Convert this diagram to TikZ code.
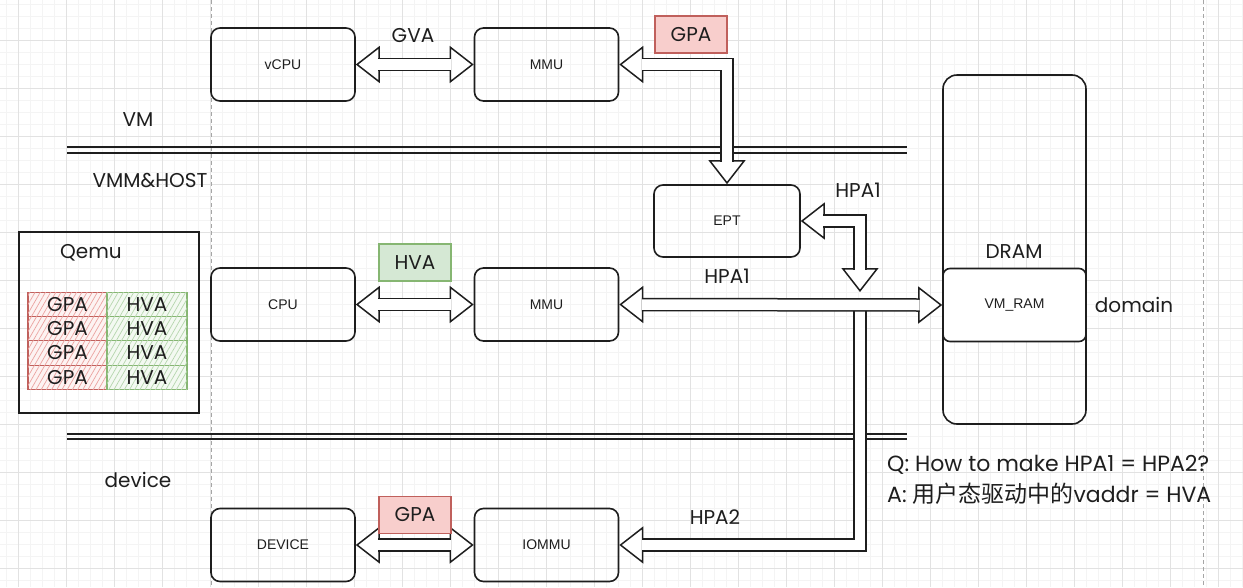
\documentclass[tikz,border=0pt]{standalone}
\usepackage{fontspec}
\setmainfont{Poppins}
\newfontfamily\boxfont{Liberation Sans}
\newfontfamily\cjk{Noto Sans CJK SC}
\usepackage{tikz}
\usetikzlibrary{arrows.meta}
\usetikzlibrary{calc}
\usetikzlibrary{positioning}
\usetikzlibrary{patterns.meta}
\definecolor{inkc}{HTML}{1E1E1E}
\definecolor{gridmajor}{HTML}{E2E2E2}
\definecolor{gridminor}{HTML}{F4F4F4}
\definecolor{redfill}{HTML}{F8CECC}
\definecolor{reddraw}{HTML}{C0605C}
\definecolor{redlight}{HTML}{FDF3F2}
\definecolor{redhatch}{HTML}{EBA3A0}
\definecolor{greenfill}{HTML}{D5E8D4}
\definecolor{greendraw}{HTML}{86B672}
\definecolor{greenlight}{HTML}{F3F9F1}
\definecolor{greenhatch}{HTML}{B5D6AD}
\tikzset{
  box/.style={draw=inkc,line width=1.6pt,rounded corners=9pt,minimum width=144pt,minimum height=73pt,font=\boxfont\fontsize{14}{16}\selectfont,text=inkc},
  hand/.style={font=\fontsize{20}{24}\selectfont,text=inkc,inner sep=0pt},
  tagred/.style={hand,draw=reddraw,fill=redfill,line width=1.3pt,minimum width=72pt,minimum height=37pt},
  taggreen/.style={hand,draw=greendraw,fill=greenfill,line width=1.3pt,minimum width=72pt,minimum height=37pt},
  cellred/.style={hand,draw=reddraw,fill=redlight,line width=1.2pt,minimum width=79pt,minimum height=24.25pt,
    postaction={pattern={Lines[angle=60,distance=4.5pt,line width=0.7pt]},pattern color=redhatch}},
  cellgreen/.style={hand,draw=greendraw,fill=greenlight,line width=1.2pt,minimum width=80pt,minimum height=24.25pt,
    postaction={pattern={Lines[angle=60,distance=4.5pt,line width=0.7pt]},pattern color=greenhatch}},
  shaft/.style={draw=inkc,line width=1.5pt,double=white,double distance=10.5pt},
  head/.style={draw=inkc,line width=1.5pt,-{Triangle[length=24pt,width=37pt,fill=white]}},
  sep/.style={draw=inkc,line width=1.6pt},
  note/.style={hand,anchor=west,font=\fontsize{22}{26}\selectfont},
}
\begin{document}
\begin{tikzpicture}[x=1pt,y=-1pt,node distance=263.5pt]
  \fill[white] (0,0) rectangle (1243,587);
  \useasboundingbox (0,0) rectangle (1243,587);
  % grid
  \foreach \x in {6,18,...,1242} \draw[gridminor,line width=0.6pt] (\x,0) -- (\x,587);
  \foreach \y in {4,16,...,586} \draw[gridminor,line width=0.6pt] (0,\y) -- (1243,\y);
  \foreach \x in {18,66,...,1242} \draw[gridmajor,line width=0.8pt] (\x,0) -- (\x,587);
  \foreach \y in {40,88,...,586} \draw[gridmajor,line width=0.8pt] (0,\y) -- (1243,\y);
  \draw[gray!70,dash pattern=on 4pt off 3pt,line width=0.6pt] (211,0) -- (211,587);
  \draw[gray!70,dash pattern=on 4pt off 3pt,line width=0.6pt] (1203,0) -- (1203,587);

  % layers
  \draw[sep] (67,147) -- (907,147);
  \draw[sep] (67,153) -- (907,153);
  \draw[sep] (67,434) -- (907,434);
  \draw[sep] (67,439) -- (907,439);
  \node[hand] (vm) at (138,120) {VM};
  \node[hand] (host) at (150,181) {VMM\&HOST};
  \node[hand] (dev) at (138,480) {device};

  % boxes
  \node[box] (vcpu) at (283,64.5) {vCPU};
  \node[box] (mmu) [right of=vcpu] {MMU};
  \node[box,minimum width=146pt,minimum height=72pt] (ept) at (727,221) {EPT};
  \node[box] (cpu) [below of=vcpu,node distance=240pt] {CPU};
  \node[box] (mmu2) [right of=cpu] {MMU};
  \node[box] (device) [below of=cpu,node distance=240.5pt] {DEVICE};
  \node[box] (iommu) [right of=device] {IOMMU};
  \node[box,rounded corners=14pt,minimum width=143pt,minimum height=349pt] (dram) at (1014.5,249.5) {};
  \node[hand] (dramlabel) at (1014,252) {DRAM};
  \node[box,rounded corners=7pt,minimum width=143pt,minimum height=73pt,fill=white] (vmram) at (1014.5,305) {VM\_RAM};
  \node[hand] (domain) at (1134,305) {domain};

  % qemu table
  \node[draw=inkc,line width=1.6pt,minimum width=180pt,minimum height=181pt] (qemu) at (109,322.5) {};
  \node[hand] (qemulabel) at (91,253) {Qemu};
  \foreach \i in {0,...,3}{
    \node[cellred] (gpa\i) at (67.5,{304.5+24.25*\i}) {GPA};
    \node[cellgreen] (hva\i) at (147,{304.5+24.25*\i}) {HVA};
  }

  % arrow heads
  \coordinate (hpa1tip) at (860,292);
  \coordinate (split) at (hpa1tip |- mmu2.east);
  \draw[head] ($(vcpu.east)+(24,0)$) -- (vcpu.east);
  \draw[head] ($(mmu.west)+(-24,0)$) -- (mmu.west);
  \draw[head] ($(mmu.east)+(24,0)$) -- (mmu.east);
  \draw[head] ($(ept.north)+(0,-24)$) -- (ept.north);
  \draw[head] ($(ept.east)+(24,0)$) -- (ept.east);
  \draw[head] ($(hpa1tip)+(0,-24)$) -- (hpa1tip);
  \draw[head] ($(cpu.east)+(24,0)$) -- (cpu.east);
  \draw[head] ($(mmu2.west)+(-24,0)$) -- (mmu2.west);
  \draw[head] ($(mmu2.east)+(24,0)$) -- (mmu2.east);
  \draw[head] ($(vmram.west)+(-24,0)$) -- (vmram.west);
  \draw[head] ($(device.east)+(24,0)$) -- (device.east);
  \draw[head] ($(iommu.west)+(-24,0)$) -- (iommu.west);
  \draw[head] ($(iommu.east)+(24,0)$) -- (iommu.east);

  % arrow shafts
  \draw[shaft] ($(vcpu.east)+(22.5,0)$) -- ($(mmu.west)+(-22.5,0)$);
  \draw[shaft] ($(mmu.east)+(22.5,0)$) -| ($(ept.north)+(0,-22.5)$);
  \draw[shaft] ($(ept.east)+(22.5,0)$) -| ($(hpa1tip)+(0,-22.5)$);
  \draw[shaft] ($(cpu.east)+(22.5,0)$) -- ($(mmu2.west)+(-22.5,0)$);
  \draw[shaft] (split) |- ($(iommu.east)+(22.5,0)$);
  \draw[shaft] ($(mmu2.east)+(22.5,0)$) -- ($(vmram.west)+(-22.5,0)$);
  \draw[shaft] ($(device.east)+(22.5,0)$) -- ($(iommu.west)+(-22.5,0)$);

  % labels
  \node[hand] (gva) at (413,36) {GVA};
  \node[tagred] (gpatop) at (691,34.5) {GPA};
  \node[hand] (hpa1a) at (858,190) {HPA1};
  \node[taggreen] (hva) at (415,262.5) {HVA};
  \node[hand] (hpa1b) at (727,276) {HPA1};
  \node[tagred] (gpabot) at (415,515) {GPA};
  \node[hand] (hpa2) at (715,517) {HPA2};
  \node[note] (q) at (887,465) {Q: How to make HPA1 = HPA2?};
  \node[note] (a) at (887,494) {A: {\cjk\fontsize{23}{26}\selectfont 用户态驱动中的}vaddr = HVA};
\end{tikzpicture}
\end{document}
